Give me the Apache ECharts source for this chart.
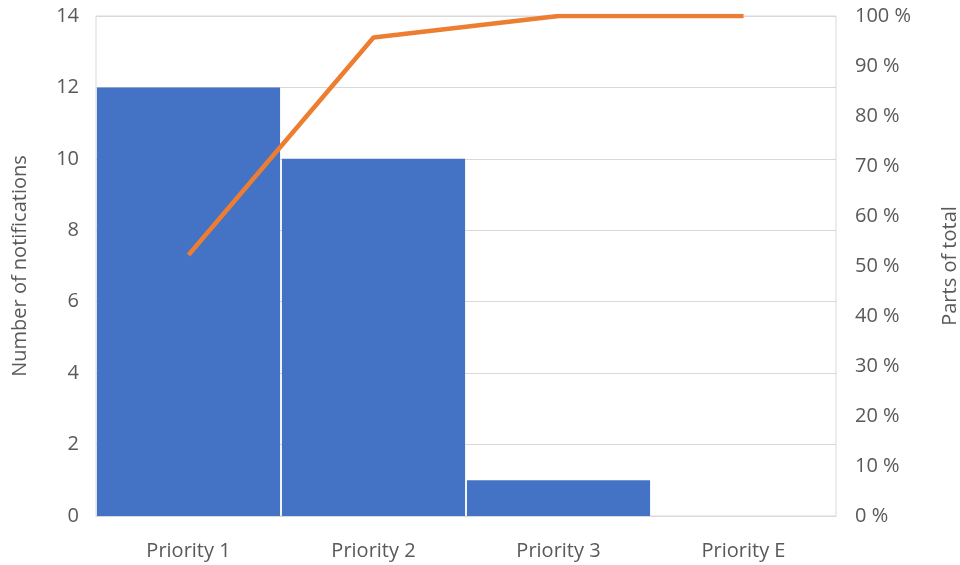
<!DOCTYPE html>
<html>
<head>
<meta charset="utf-8">
<script src="https://cdn.jsdelivr.net/npm/echarts@6/dist/echarts.min.js"></script>
<style>html,body{margin:0;padding:0;background:#fff;}#c{width:960px;height:565px;}</style>
</head>
<body>
<div id="c"></div>
<script>
const categories = ['Priority 1', 'Priority 2', 'Priority 3', 'Priority E'];
const notifications = [12, 10, 1, 0];
const cumulativePercent = [52.2, 95.7, 100, 100];
const leftTicks = { min: 0, max: 14, interval: 2 };
const rightTicks = { min: 0, max: 100, interval: 10 };

const font = '"Open Sans", "Noto Sans", sans-serif';
const textColor = '#595959';
const fs = 20;
const chart = echarts.init(document.getElementById('c'), null, { renderer: 'canvas' });
chart.setOption({
  animation: false,
  backgroundColor: '#fff',
  textStyle: { fontFamily: font },
  grid: { left: 96, right: 124, top: 16, bottom: 49, show: true, borderColor: '#d9d9d9', borderWidth: 1, containLabel: false, outerBoundsMode: 'none' },
  xAxis: {
    type: 'category',
    data: categories,
    axisLine: { show: true, lineStyle: { color: '#d9d9d9' } },
    axisTick: { show: false },
    axisLabel: { color: textColor, fontSize: fs, fontFamily: font, margin: 25 }
  },
  yAxis: [
    {
      type: 'value', min: leftTicks.min, max: leftTicks.max, interval: leftTicks.interval,
      name: 'Number of notifications', nameLocation: 'middle', nameGap: 66, nameRotate: 90,
      nameTextStyle: { color: textColor, fontSize: fs, fontFamily: font },
      axisLine: { show: false }, axisTick: { show: false },
      axisLabel: { color: textColor, fontSize: fs, fontFamily: font, margin: 17 },
      splitLine: { show: true, lineStyle: { color: '#d9d9d9', width: 1 } }
    },
    {
      type: 'value', min: rightTicks.min, max: rightTicks.max, interval: rightTicks.interval,
      name: 'Parts of total', nameLocation: 'middle', nameGap: 104, nameRotate: 90,
      nameTextStyle: { color: textColor, fontSize: fs, fontFamily: font },
      axisLine: { show: false }, axisTick: { show: false },
      axisLabel: { color: textColor, fontSize: fs, fontFamily: font, margin: 19, formatter: v => v + ' %' },
      splitLine: { show: false }
    }
  ],
  series: [
    {
      type: 'bar', data: notifications, yAxisIndex: 0,
      barCategoryGap: '1%',
      itemStyle: { color: '#4472C4' }
    },
    {
      type: 'line', data: cumulativePercent, yAxisIndex: 1,
      showSymbol: false, symbol: 'none',
      lineStyle: { color: '#ED7D31', width: 4.5, cap: 'butt' }
    }
  ]
});
</script>
</body>
</html>
